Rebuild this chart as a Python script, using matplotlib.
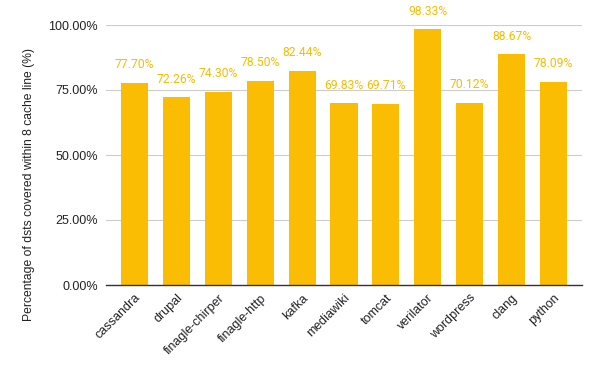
import matplotlib
matplotlib.use("Agg")
import matplotlib.pyplot as plt
from matplotlib.ticker import FuncFormatter

categories = ["cassandra", "drupal", "finagle-chirper", "finagle-http", "kafka",
              "mediawiki", "tomcat", "verilator", "wordpress", "clang", "python"]
values = [77.70, 72.26, 74.30, 78.50, 82.44, 69.83, 69.71, 98.33, 70.12, 88.67, 78.09]
yticks = [0, 25, 50, 75, 100]

plt.rcParams['font.family'] = ['Liberation Sans', 'DejaVu Sans']

fig = plt.figure(figsize=(6.0, 3.71), dpi=100)
ax = fig.add_axes([106/600, 1-285/371, (582-106)/600, (285-25)/371])

x = list(range(len(categories)))
bars = ax.bar(x, values, width=0.645, color="#fbbc04", zorder=3)
for xi, v in zip(x, values):
    ax.annotate(f"{v:.2f}%", (xi, v), xytext=(0, 13), textcoords="offset points",
                ha="center", va="center", fontsize=8.7, color="#f9bb00",
                family=["Roboto", "DejaVu Sans"])

ax.set_xlim(-0.68, len(categories) - 1 + 0.68)
ax.set_ylim(0, 100)
ax.set_yticks(yticks)
ax.yaxis.set_major_formatter(FuncFormatter(lambda v, p: f"{v:.2f}%"))
ax.grid(axis="y", color="#cccccc", linewidth=0.8, zorder=0)
for s in ["top", "right", "left"]:
    ax.spines[s].set_visible(False)
ax.spines["bottom"].set_color("#333333")
ax.spines["bottom"].set_linewidth(1.0)
ax.spines["bottom"].set_zorder(4)
ax.tick_params(axis="both", length=0, labelsize=9, colors="#222222")
ax.tick_params(axis="y", pad=6)
ax.set_xticks(x)
ax.set_xticklabels(categories, rotation=45, ha="right", rotation_mode="anchor")
ax.tick_params(axis="x", pad=5)
ax.set_ylabel("Percentage of dsts covered within 8 cache line (%)", fontsize=8.7, color="#222222")
ax.yaxis.set_label_coords(-0.15, 0.385)

fig.savefig("out.png", dpi=100)
